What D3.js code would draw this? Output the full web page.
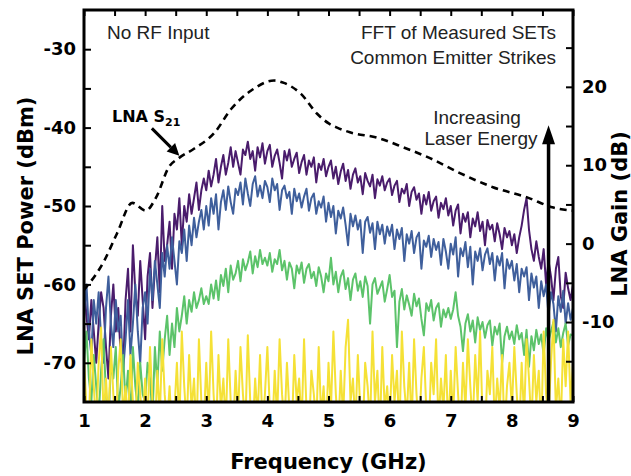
<!DOCTYPE html>
<html><head><meta charset="utf-8">
<script src="https://cdn.jsdelivr.net/npm/d3@7"></script>
<style>body{margin:0;background:#fff}</style>
</head><body><svg id="c" width="631" height="476"></svg>
<script>
// ---- data ----
const freqStart = 1.0, freqStep = 0.04; // GHz grid of the FFT samples
const purpleSeries = [
-60,-64,-67,-62,-66,-70,-65,-61,-63,-68,-72,-64,-60,-66,-63,-69,-71,-62,-58,-66,-55,-61,-64,-57,-62,
-67,-59,-56,-63,-58,-54,-61,-50,-57,-55,-52,-58,-51,-53,-49,-55,-50,-52,-48.5,-51,-49,-47,-50.5,-48,-46.5,
-48,-45.5,-47.5,-46,-44,-47,-45,-43.5,-46,-44.5,-42.5,-45,-43,-44.5,-46,-42.8,-43.5,-41.8,-44,-43,-45.5,-42.5,-43.8,-42,-44.6,
-43,-42.2,-45,-43.6,-42.8,-44.5,-46.5,-43,-44.2,-42.8,-45,-44,-43.2,-45.8,-44.4,-43.5,-46,-44.2,-45,-43.8,-47,-44.6,-45.4,-44,-46.2,
-45,-44.2,-46.5,-45,-47.2,-45.6,-44.6,-46.8,-45.4,-47.8,-46,-45.2,-47,-46.2,-48.5,-45.8,-46.8,-47.5,-46,-49,-46.6,-47.4,-46.2,-48,-47,
-46.5,-48.6,-47.4,-46.8,-49.5,-47.8,-48.4,-47.2,-50,-48.2,-47.6,-49.2,-48.4,-51,-48.6,-49.8,-48.2,-50.6,-49.4,-48.8,-51.5,-49.6,-50.4,-49,-51.2,
-50,-52.5,-50.6,-49.8,-53.5,-51,-52,-50.8,-54,-51.6,-52.6,-50.8,-53.2,-52,-55,-51.8,-53,-52.4,-54.5,-52.2,-53.6,-55.5,-52.8,-54,-53.2,
-55,-53.6,-56,-54,-52.5,-50.5,-49,-53,-55.5,-57,-54.5,-56.5,-58,-55.5,-60,-57,-59,-62,-58,-56.5,-61.5,-63,-58.5,-60.5,-62,
-60];
const blueSeries = [
-64,-60,-66,-69,-62,-65,-61,-67,-70,-63,-59,-65,-68,-62,-66,-64,-71,-67,-62,-69,-65,-60,-66,-70,-63,
-61,-65,-58,-62,-57,-60,-63,-56,-59,-55,-58,-54,-57,-60,-54.5,-56,-53,-57,-52.5,-55,-51.5,-54,-52,-50.5,-53,
-50,-52.5,-49,-51,-48.5,-53,-49.5,-48,-50.5,-47.5,-49.5,-51,-47.8,-48.6,-47,-49.8,-46.5,-48.4,-50,-47.2,-46.2,-48.8,-47.4,-49,-46.8,
-47.6,-49.5,-46.5,-48,-47.2,-50.5,-48,-47.4,-49,-48.2,-51,-47.8,-49.4,-48.4,-50.2,-48.8,-47.8,-50.6,-49,-48.4,-51,-49.4,-50.2,-48.8,-52,
-49.6,-51.4,-50,-53.5,-50.6,-51.6,-50.2,-52.4,-55,-51,-52.6,-51.2,-53,-51.8,-56,-52,-51.4,-53.4,-52.2,-55.5,-52,-53.6,-52.4,-54.8,-52.6,
-53.8,-52.4,-55.5,-53,-54.2,-52.8,-57,-53.6,-54.8,-53.2,-56,-54,-53.4,-58,-54.4,-55.2,-53.8,-56.5,-54.2,-55.6,-54.6,-57.5,-54.2,-55.8,-58,
-54.8,-56.2,-54,-59,-55.4,-56.4,-54.6,-57.8,-55.2,-60,-55.8,-57,-55.4,-58.2,-56.2,-55.4,-57.4,-56,-59.5,-56.4,-57.6,-56,-60.5,-56.8,-58,
-57,-59.5,-57.4,-61,-58,-59,-57.8,-62,-58.6,-60.4,-59,-63,-59.6,-61.5,-60,-64,-61,-62.5,-66,-61.5,-63.5,-60.8,-65,-62.4,-64.5,
-63];
const greenSeries = [
-70,-66,-72,-75,-69,-73,-77,-71,-67,-74,-78,-70,-72,-68,-76,-73,-69,-75,-71,-77,-68,-73,-76,-70,-74,
-75,-70,-72,-77,-68,-73,-66,-71,-67,-64,-69,-65,-68,-63,-66,-64,-61.5,-65,-62,-63.5,-61,-63,-62,-60.5,-62.5,
-61.5,-62.5,-60,-61.8,-59.5,-62,-58.8,-60.2,-58,-61,-57.6,-59.4,-58.6,-57,-59.6,-56.8,-58.2,-57.2,-55.8,-58.6,-56.4,-57.8,-55.6,-57.4,-56.6,
-57.6,-56,-58.4,-56.8,-57.4,-55.6,-58.2,-57,-59.4,-57.2,-58,-60.5,-57.6,-58.6,-57.2,-59.8,-58,-57.4,-59.2,-58.4,-60.2,-57.8,-59,-61,-58.6,
-59.6,-56.6,-60,-58.4,-61,-59,-58.2,-60.6,-59.2,-62,-59.4,-58.6,-60.8,-59.6,-61.6,-59,-60.2,-65,-60,-59.2,-61.2,-60.4,-59.6,-62.2,-60.6,
-58.8,-61.6,-60.8,-68,-62.2,-60.6,-63.2,-61.4,-62.6,-64,-61.2,-62.8,-61.8,-64.4,-66.5,-62.4,-63.4,-62,-64.6,-63,-62.4,-65.4,-63.2,-64.2,-63,
-64.4,-63.2,-61,-64,-65.4,-68.5,-65,-63.8,-66,-64.6,-67.4,-64.2,-65.8,-64.8,-66.8,-65.2,-64.6,-67.8,-65.4,-66.4,-65,-70,-66.6,-65.4,-67,
-66,-67.6,-65.2,-67,-66.2,-69,-65.8,-70.5,-66.6,-68.4,-65.8,-67.6,-66.4,-69,-65.6,-67.2,-66,-64.8,-67.4,-65.6,-68,-66.2,-65,-67.8,-66.4,
-66.5];
const yellowSeries = [
-69,-76,-78,-67,-73,-78,-70,-65.5,-77,-72,-78,-68,-74,-79,-71,-67,-77,-73,-78,-69,-75,-78,-70,-74,-78,
-72,-78,-68,-75,-79,-71,-77,-67,-74,-78,-73,-79,-76,-70,-78,-66,-73,-78,-69,-76,-72,-79,-67,-75,-78,
-70,-77,-66,-74,-79,-69,-76,-72,-78,-67,-75,-79,-71,-77,-68,-74,-78,-66.5,-75,-79,-72,-77,-69,-78,-74,
-68,-76,-79,-71,-77,-67,-74,-78,-70,-76,-79,-69,-75,-72,-78,-67,-76,-79,-71,-74,-78,-68,-77,-73,-79,
-70,-76,-66,-74,-79,-71,-77,-68,-64.5,-75,-72,-78,-69,-76,-79,-70,-73,-78,-66,-75,-71,-79,-68,-76,-73,
-78,-69,-75,-71,-79,-66,-73,-77,-70,-78,-67,-74,-79,-72,-68,-76,-79,-70,-74,-67,-78,-72,-76,-69,-79,
-71,-77,-68,-74,-79,-70,-76,-67,-73,-78,-69,-75,-66,-77,-79,-71,-74,-68,-78,-72,-76,-69,-79,-73,-70,
-76,-68,-74,-79,-70,-77,-67,-72,-78,-69,-75,-71,-79,-66,-74,-77,-70,-64.5,-76,-72,-78,-67,-73,-66,-75,
-70];
const s21Freq = [1.00,1.33,1.54,1.79,2.01,2.18,2.39,2.55,2.80,3.13,3.41,3.73,4.11,4.27,4.55,4.81,5.01,5.14,5.35,5.80,6.22,6.66,7.15,7.69,8.25,8.68,9.00];
const s21Gain = [-5.9,-2.2,1.3,5.2,4.2,5.9,9.8,10.9,12.1,14.1,17.2,19.5,20.8,20.5,19.1,16.6,15.3,14.8,14.2,13.5,12.3,10.9,9.0,7.2,5.9,4.6,4.2];
const xTicks = [1,1.5,2,2.5,3,3.5,4,4.5,5,5.5,6,6.5,7,7.5,8,8.5,9];
const leftTicks = [-70,-65,-60,-55,-50,-45,-40,-35,-30];
const rightTicks = [-15,-10,-5,0,5,10,15,20,25];
const seriesColors = ["#4a1c6c","#3f5f9c","#5cc36a","#f5e136"];

// ---- chart ----
const svg = d3.select("#c");
const m = {l:84, r:573, t:10, b:402};
const x = d3.scaleLinear().domain([1,9]).range([m.l, m.r]);
const yL = d3.scaleLinear().domain([-75,-25]).range([m.b, m.t]);
const yR = d3.scaleLinear().domain([-20.2,29.8]).range([m.b, m.t]);

svg.append("defs").append("clipPath").attr("id","plot")
  .append("rect").attr("x",m.l).attr("y",m.t).attr("width",m.r-m.l).attr("height",m.b-m.t);

const g = svg.append("g").attr("clip-path","url(#plot)");
const line = d3.line().x((d,i)=>x(freqStart+i*freqStep)).y(d=>yL(d));
[purpleSeries, blueSeries, greenSeries, yellowSeries].forEach((s,k)=>{
  g.append("path").datum(s).attr("d",line).attr("fill","none")
    .attr("stroke",seriesColors[k]).attr("stroke-width",2).attr("stroke-linejoin","round");
});

const s21 = s21Freq.map((f,i)=>[f,s21Gain[i]]);
g.append("path").datum(s21)
  .attr("d", d3.line().x(d=>x(d[0])).y(d=>yR(d[1])).curve(d3.curveMonotoneX))
  .attr("fill","none").attr("stroke","#000").attr("stroke-width",2.6).attr("stroke-dasharray","7,5");

// vertical "increasing laser energy" arrow
const ax = x(8.6), aTop = yL(-39.7);
svg.append("line").attr("x1",ax).attr("x2",ax).attr("y1",m.b).attr("y2",aTop+16)
  .attr("stroke","#000").attr("stroke-width",3.5);
svg.append("path").attr("d",`M${ax},${aTop} L${ax-6.5},${aTop+19} L${ax+6.5},${aTop+19} Z`).attr("fill","#000");

// S21 label arrow
const p0=[x(2.11), yL(-40.1)], p1=[x(2.56), yL(-43.6)];
const ang = Math.atan2(p1[1]-p0[1], p1[0]-p0[0]);
const hl=12, hw=6;
const bx = p1[0]-hl*Math.cos(ang), by = p1[1]-hl*Math.sin(ang);
svg.append("line").attr("x1",p0[0]).attr("y1",p0[1]).attr("x2",bx).attr("y2",by)
  .attr("stroke","#000").attr("stroke-width",3);
svg.append("path").attr("d",`M${p1[0]},${p1[1]} L${bx-hw*Math.sin(ang)},${by+hw*Math.cos(ang)} L${bx+hw*Math.sin(ang)},${by-hw*Math.cos(ang)} Z`).attr("fill","#000");

// axes
const tickFont = g2 => g2.selectAll("text").attr("font-family","DejaVu Sans, Verdana, sans-serif")
  .attr("font-weight","bold").attr("font-size",18).attr("fill","#000");
const style = g2 => { g2.select(".domain").remove(); g2.selectAll("line").attr("stroke","#000").attr("stroke-width",2); tickFont(g2); };

svg.append("g").attr("transform",`translate(0,${m.b})`)
  .call(d3.axisBottom(x).tickValues(xTicks).tickSize(-6).tickPadding(12).tickFormat(d=>Number.isInteger(d)?d:""))
  .call(style);
svg.append("g").attr("transform",`translate(0,${m.t})`)
  .call(d3.axisTop(x).tickValues(xTicks).tickSize(-6).tickFormat(""))
  .call(style);
svg.append("g").attr("transform",`translate(${m.l},0)`)
  .call(d3.axisLeft(yL).tickValues(leftTicks).tickSize(-7).tickPadding(8).tickFormat(d=>d%10===0?d:""))
  .call(style);
svg.append("g").attr("transform",`translate(${m.r},0)`)
  .call(d3.axisRight(yR).tickValues(rightTicks).tickSize(-7).tickPadding(9).tickFormat(d=>d%10===0?d:""))
  .call(style);

svg.append("rect").attr("x",m.l).attr("y",m.t).attr("width",m.r-m.l).attr("height",m.b-m.t)
  .attr("fill","none").attr("stroke","#000").attr("stroke-width",3);

// titles
const bold = {"font-family":"DejaVu Sans, Verdana, sans-serif","font-weight":"bold","font-size":21,"fill":"#000"};
const applyAttrs = (sel,o)=>{for(const k in o) sel.attr(k,o[k]); return sel;};
applyAttrs(svg.append("text"),bold).attr("x",(m.l+m.r)/2).attr("y",469).attr("text-anchor","middle").text("Frequency (GHz)");
applyAttrs(svg.append("text"),bold).attr("transform","translate(33,226) rotate(-90)").attr("text-anchor","middle").text("LNA SET Power (dBm)");
applyAttrs(svg.append("text"),bold).attr("transform","translate(627,214) rotate(-90)").attr("text-anchor","middle").text("LNA Gain (dB)");

// annotations
const reg = {"font-family":"Liberation Sans, Arial, sans-serif","font-size":19,"fill":"#222"};
applyAttrs(svg.append("text"),reg).attr("x",107).attr("y",39).text("No RF Input");
applyAttrs(svg.append("text"),reg).attr("x",556).attr("y",39).attr("text-anchor","end").text("FFT of Measured SETs");
applyAttrs(svg.append("text"),reg).attr("x",556).attr("y",64).attr("text-anchor","end").text("Common Emitter Strikes");
applyAttrs(svg.append("text"),reg).attr("x",477).attr("y",124).attr("text-anchor","middle").text("Increasing");
applyAttrs(svg.append("text"),reg).attr("x",481).attr("y",145).attr("text-anchor","middle").text("Laser Energy");

const s21t = svg.append("text").attr("x",112).attr("y",122)
  .attr("font-family","DejaVu Sans, Verdana, sans-serif").attr("font-weight","bold").attr("font-size",16).attr("fill","#000");
s21t.append("tspan").text("LNA S");
s21t.append("tspan").attr("font-size",11).attr("dy",4).text("21");
</script></body></html>
